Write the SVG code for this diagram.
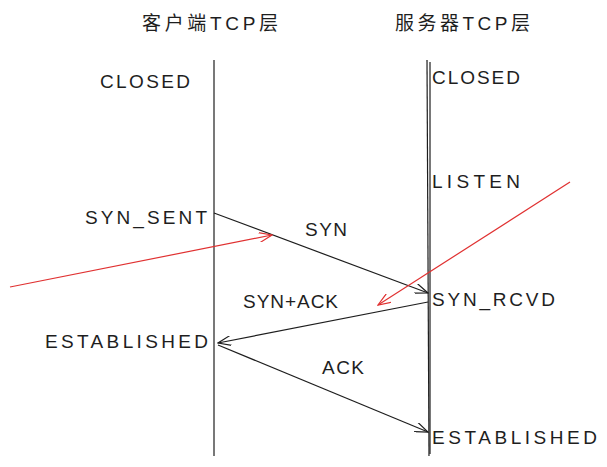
<svg xmlns="http://www.w3.org/2000/svg" width="607" height="467" viewBox="0 0 607 467">
<style>
text{font-family:"Liberation Sans","Noto Sans CJK SC",sans-serif;font-size:19px;fill:#1e1e1e}
.l{stroke:#1e1e1e;stroke-width:1.2;fill:none}
.r{stroke:#e03131;stroke-width:1.2;fill:none}
</style>
<defs>
<marker id="a" markerWidth="14" markerHeight="10" refX="13" refY="5" orient="auto" markerUnits="userSpaceOnUse"><path d="M0,0 L13,5 L0,10" fill="none" stroke="#1e1e1e" stroke-width="1.2"/></marker>
<marker id="ar" markerWidth="14" markerHeight="10" refX="13" refY="5" orient="auto" markerUnits="userSpaceOnUse"><path d="M0,0 L13,5 L0,10" fill="none" stroke="#e03131" stroke-width="1.2"/></marker>
</defs>
<rect width="607" height="467" fill="#fff"/>
<g id="client"><text x="142" y="30" textLength="136">客户端TCP层</text><line class="l" x1="214" y1="60" x2="214" y2="456"/></g>
<g id="server"><text x="395" y="30" textLength="135">服务器TCP层</text><line class="l" x1="427" y1="60" x2="429" y2="456"/><line class="l" x1="430" y1="62" x2="430" y2="454"/></g>
<g id="labels">
<text x="100" y="88" textLength="90">CLOSED</text>
<text x="432" y="84" textLength="88">CLOSED</text>
<text x="432" y="188" textLength="88">LISTEN</text>
<text x="85" y="224" textLength="122">SYN_SENT</text>
<text x="305" y="236" textLength="42">SYN</text>
<text x="243" y="308" textLength="95">SYN+ACK</text>
<text x="432" y="306" textLength="123">SYN_RCVD</text>
<text x="45" y="348" textLength="163">ESTABLISHED</text>
<text x="322" y="374" textLength="42">ACK</text>
<text x="432" y="444" textLength="165">ESTABLISHED</text>
</g>
<g id="connectors">
<line class="l" x1="214" y1="213" x2="428" y2="293" marker-end="url(#a)"/>
<line class="l" x1="428" y1="302" x2="218" y2="343" marker-end="url(#a)"/>
<line class="l" x1="218" y1="345" x2="428" y2="432" marker-end="url(#a)"/>
<line class="r" x1="10" y1="287" x2="272" y2="235" marker-end="url(#ar)"/>
<line class="r" x1="570" y1="182" x2="378" y2="305" marker-end="url(#ar)"/>
</g>
</svg>
